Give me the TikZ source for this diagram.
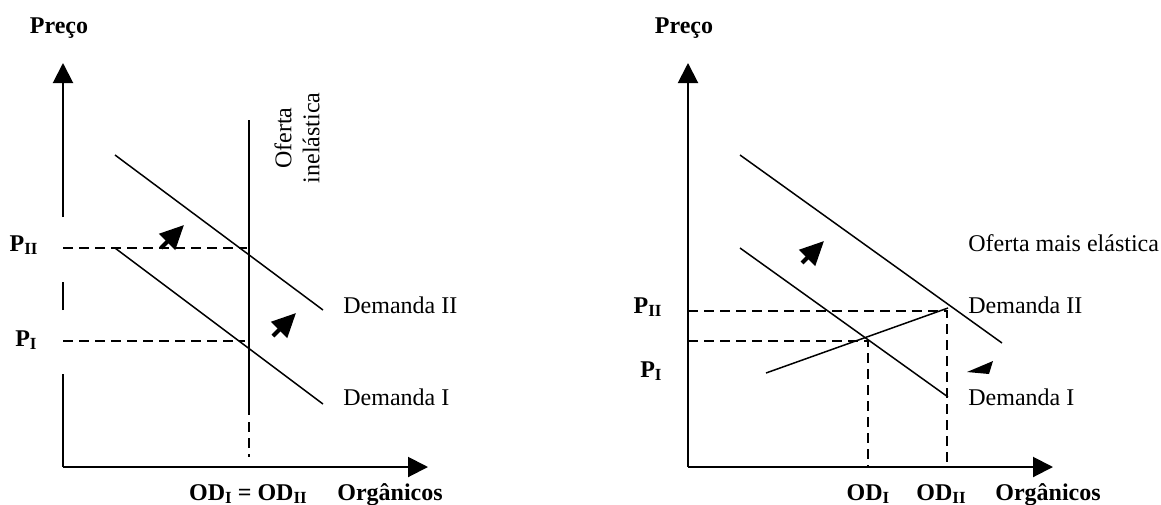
\documentclass[tikz,border=0pt]{standalone}
\usepackage{fontspec}
\setmainfont{Liberation Serif}
\usetikzlibrary{arrows.meta}
\newcommand{\idx}[1]{\raisebox{-1.5pt}{\fontsize{8.5}{9}\selectfont\bfseries #1}}

\begin{document}
\begin{tikzpicture}[x=0.5pt,y=-0.5pt,font=\fontsize{12}{14}\selectfont,
  axisline/.style={line width=1pt,-{Triangle[length=10pt,width=10pt]}},
  curve/.style={line width=0.75pt},
  guide/.style={line width=0.75pt,dash pattern=on 5pt off 3pt},
  move/.style={line width=2pt,-{Triangle[length=12pt,width=11pt]}},
  lbl/.style={inner sep=0pt},
  ttl/.style={inner sep=0pt,font=\fontsize{12}{14}\selectfont\bfseries}]
  \useasboundingbox (0,0) rectangle (1161,504);
  % left: inelastic supply
  \coordinate (oL) at (63,467);
  \node[ttl,anchor=base] (precoL) at (59,33) {Preço};
  \draw[axisline] (oL) -- (428,467) coordinate (xL);
  \draw[axisline] (63,217) -- (63,63) coordinate (yL);
  \draw[line width=1pt] (oL) -- (63,374) (63,310) -- (63,282);
  \draw[curve] (115,155) -- (323,310); \draw[curve] (115,248) -- (323,404);
  \draw[curve] (249,120) coordinate (supL) -- (249,415);
  \draw[guide] (249,422) -- (249,457);
  \draw[guide] (63,248) -- (247,248); \draw[guide] (63,341) -- (245,341);
  \draw[move] (161,248) -- (184,225); \draw[move] (273,336) -- (296,313);
  \node[lbl,rotate=90,align=center] (ofertaL) at (297,138) {Oferta\\inelástica};
  \node[lbl,anchor=base west] (dem2L) at (343,313) {Demanda II};
  \node[lbl,anchor=base west] (dem1L) at (343,405) {Demanda I};
  \node[lbl,anchor=base east] (p2L) at (38,251) {\textbf{P}\idx{II}};
  \node[lbl,anchor=base east] (p1L) at (37,346) {\textbf{P}\idx{I}};
  \node[lbl,anchor=base] (odL) at (248,500) {\textbf{OD\idx{I} = OD\idx{II}}};
  \node[ttl,anchor=base] (orgL) at (390,500) {Orgânicos};
  % right: more elastic supply
  \coordinate (oR) at (688,467);
  \node[ttl,anchor=base] (precoR) at (684,33) {Preço};
  \draw[axisline] (oR) -- (1053,467) coordinate (xR);
  \draw[axisline] (oR) -- (688,63) coordinate (yR);
  \draw[curve] (740,155) -- (1002,343); \draw[curve] (740,248) -- (948,397);
  \draw[curve] (766,373) -- (948,308) coordinate (eq2R);
  \draw[guide] (688,311) -- (947,311) -- (947,467);
  \draw[guide] (688,341) -- (868,341) -- (868,467);
  \draw[move] (802,263) -- (824,241);
  \fill (967,372) -- (993,361) -- (989,374) -- cycle;
  \node[lbl,anchor=base west] (ofertaR) at (968,251) {Oferta mais elástica};
  \node[lbl,anchor=base west] (dem2R) at (968,313) {Demanda II};
  \node[lbl,anchor=base west] (dem1R) at (968,405) {Demanda I};
  \node[lbl,anchor=base east] (p2R) at (662,313) {\textbf{P}\idx{II}};
  \node[lbl,anchor=base east] (p1R) at (662,377) {\textbf{P}\idx{I}};
  \node[lbl,anchor=base] (od1R) at (868,500) {\textbf{OD\idx{I}}};
  \node[lbl,anchor=base] (od2R) at (941,500) {\textbf{OD\idx{II}}};
  \node[ttl,anchor=base] (orgR) at (1048,500) {Orgânicos};
\end{tikzpicture}
\end{document}
